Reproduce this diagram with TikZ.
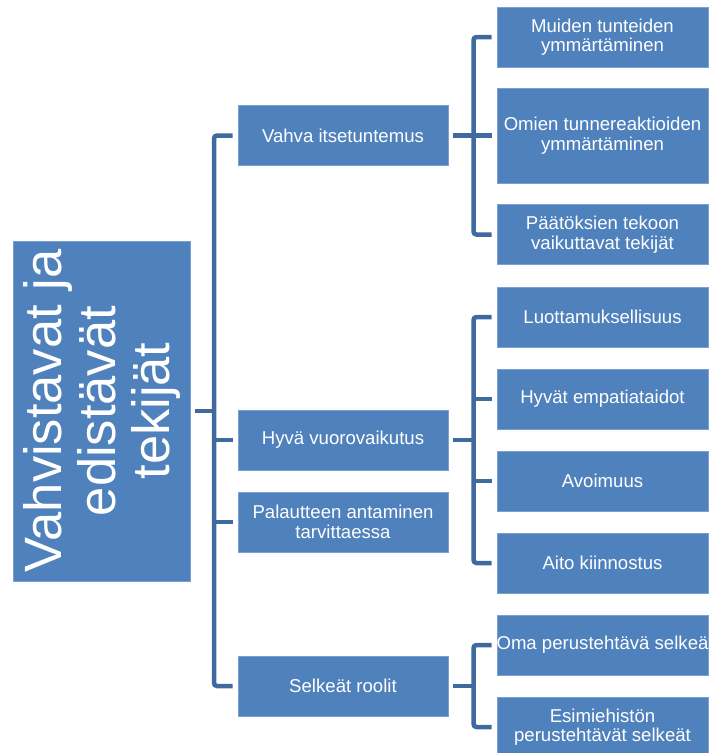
\documentclass[tikz,border=0pt]{standalone}
\usepackage{fontspec}
\setmainfont{Liberation Sans}
\definecolor{boxblue}{RGB}{79,129,189}
\definecolor{lineblue}{RGB}{62,106,160}
\definecolor{edgeblue}{RGB}{125,160,210}

\tikzstyle{every node}=[inner sep=2pt, text=white, align=center, font={\fontsize{18.6}{19.4}\selectfont}]
\tikzstyle{box}=[fill=boxblue, draw=edgeblue, line width=0.6pt, minimum width=210pt, minimum height=60pt]
\tikzstyle{root}=[box, minimum width=340pt, minimum height=177pt, font={\fontsize{52.5}{54}\selectfont}]
\tikzstyle{leaf}=[box, minimum width=211pt]
\tikzstyle{link}=[draw=lineblue, line width=4.5pt, rounded corners=3pt]

\begin{document}
\begin{tikzpicture}[x=1pt, y=-1pt]
    \useasboundingbox (0,0) rectangle (709,753);

    \node [root, rotate=90] (root) at (101.5,411) {Vahvistavat ja\\edistävät\\tekijät};

    \node [box] (vahva) at (343,135.5) {Vahva itsetuntemus};
    \node [box] (hyva) at (343,440) {Hyvä vuorovaikutus};
    \node [box] (palaute) at (343,522) {Palautteen antaminen\\tarvittaessa};
    \node [box] (roolit) at (343,686) {Selkeät roolit};

    \node [leaf] (muiden) at (602.5,37) {Muiden tunteiden\\ymmärtäminen};
    \node [leaf, minimum height=95pt] (omien) at (602.5,135.5) {Omien tunnereaktioiden\\ymmärtäminen};
    \node [leaf] (paatos) at (602.5,234.5) {Päätöksien tekoon\\vaikuttavat tekijät};

    \node [leaf] (luottamus) at (602.5,317) {Luottamuksellisuus};
    \node [leaf] (empatia) at (602.5,399) {Hyvät empatiataidot};
    \node [leaf] (avoimuus) at (602.5,481) {Avoimuus};
    \node [leaf] (kiinnostus) at (602.5,563) {Aito kiinnostus};

    \node [leaf] (oma) at (602.5,645) {\makebox[200pt][c]{Oma perustehtävä selkeä}};
    \node [leaf] (esimies) at (602.5,727) {Esimiehistön\\perustehtävät selkeät};

    % trunk from the root
    \coordinate (trunk) at (214,0);
    \draw [link] ([xshift=5pt]root.south) -- (trunk |- root.south);
    \draw [link] ([xshift=-5pt]vahva.west) -| (trunk |- roolit.west) -- ([xshift=-5pt]roolit.west);
    \draw [link] (trunk |- hyva.west) -- ([xshift=-5pt]hyva.west);
    \draw [link] (trunk |- palaute.west) -- ([xshift=-5pt]palaute.west);

    % forks to the leaves
    \coordinate (fork) at (473.5,0);
    \draw [link] ([xshift=-5pt]muiden.west) -| (fork |- paatos.west) -- ([xshift=-5pt]paatos.west);
    \draw [link] ([xshift=5pt]vahva.east) -- ([xshift=-5pt]omien.west);

    \draw [link] ([xshift=-5pt]luottamus.west) -| (fork |- kiinnostus.west) -- ([xshift=-5pt]kiinnostus.west);
    \draw [link] ([xshift=5pt]hyva.east) -- (fork |- hyva.east);
    \draw [link] (fork |- empatia.west) -- ([xshift=-5pt]empatia.west);
    \draw [link] (fork |- avoimuus.west) -- ([xshift=-5pt]avoimuus.west);

    \draw [link] ([xshift=-5pt]oma.west) -| (fork |- esimies.west) -- ([xshift=-5pt]esimies.west);
    \draw [link] ([xshift=5pt]roolit.east) -- (fork |- roolit.east);
\end{tikzpicture}
\end{document}
